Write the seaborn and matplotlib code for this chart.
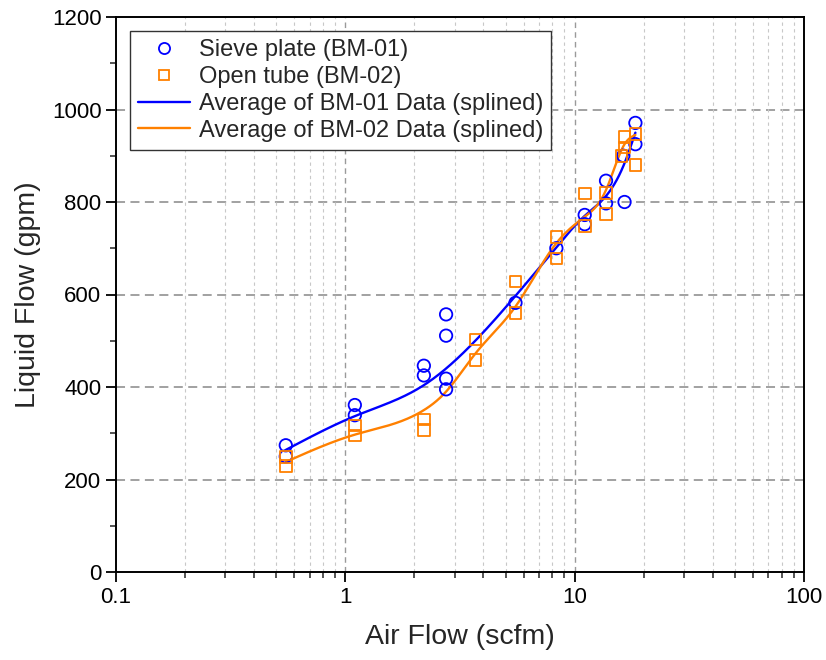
import numpy as np
import pandas as pd
import matplotlib
matplotlib.use("Agg")
import matplotlib.pyplot as plt
from matplotlib.ticker import FixedLocator, NullFormatter, MultipleLocator
from matplotlib.lines import Line2D
import seaborn as sns

# ---- data ----
bm01_x = [0.55, 0.55, 1.1, 1.1, 2.2, 2.2, 2.75, 2.75, 2.75, 2.75, 5.52, 8.32,
          11.06, 11.06, 13.7, 13.7, 16.3, 16.5, 18.4, 18.4]
bm01_y = [274, 250, 361, 339, 446, 425, 557, 511, 418, 395, 582, 700,
          772, 752, 846, 797, 900, 800, 971, 925]

bm02_x = [0.55, 0.55, 1.1, 1.1, 2.2, 2.2, 3.7, 3.7, 5.52, 5.52, 8.32, 8.32,
          11.06, 11.06, 13.7, 13.7, 16.0, 16.5, 16.5, 18.4, 18.4]
bm02_y = [249, 229, 317, 295, 330, 307, 503, 458, 628, 560, 724, 678,
          818, 748, 820, 774, 900, 940, 918, 947, 880]

avg01_x = [0.55, 1.1, 2.2, 2.75, 5.52, 8.32, 11.06, 13.7, 16.5, 18.4]
avg01_y = [264, 337, 404, 440, 597, 702, 770, 813, 884, 950]
avg02_x = [0.55, 1.1, 2.2, 2.75, 3.7, 5.52, 8.32, 11.06, 13.7, 16.5, 18.4]
avg02_y = [238, 297, 350, 390, 473, 574, 711, 768, 826, 925, 945]

x_ticks = [0.1, 1, 10, 100]
x_tick_labels = ["0.1", "1", "10", "100"]
labels = ["Sieve plate (BM-01)", "Open tube (BM-02)",
          "Average of BM-01 Data (splined)", "Average of BM-02 Data (splined)"]

BLUE = "#0000ff"
ORANGE = "#ff8000"


def natural_spline(xk, yk, n=300):
    u = np.log10(np.asarray(xk, float))
    y = np.asarray(yk, float)
    m = len(u)
    h = np.diff(u)
    A = np.zeros((m, m))
    r = np.zeros(m)
    A[0, 0] = 1
    A[-1, -1] = 1
    for i in range(1, m - 1):
        A[i, i - 1] = h[i - 1]
        A[i, i] = 2 * (h[i - 1] + h[i])
        A[i, i + 1] = h[i]
        r[i] = 6 * ((y[i + 1] - y[i]) / h[i] - (y[i] - y[i - 1]) / h[i - 1])
    M = np.linalg.solve(A, r)
    us = np.linspace(u[0], u[-1], n)
    out = np.empty_like(us)
    for j, t in enumerate(us):
        i = min(np.searchsorted(u, t, side="right") - 1, m - 2)
        i = max(i, 0)
        a = u[i + 1] - t
        b = t - u[i]
        out[j] = (M[i] * a ** 3 / (6 * h[i]) + M[i + 1] * b ** 3 / (6 * h[i])
                  + (y[i] / h[i] - M[i] * h[i] / 6) * a
                  + (y[i + 1] / h[i] - M[i + 1] * h[i] / 6) * b)
    return 10 ** us, out


sns.set_theme(style="ticks")
plt.rcParams["font.family"] = ["Liberation Sans", "DejaVu Sans"]

fig = plt.figure(figsize=(8.26, 6.6), dpi=100)
ax = fig.add_axes([116 / 826, 1 - 572 / 660, (804 - 116) / 826, (572 - 17) / 660])

df1 = pd.DataFrame({"x": bm01_x, "y": bm01_y})
df2 = pd.DataFrame({"x": bm02_x, "y": bm02_y})
sx1, sy1 = natural_spline(avg01_x, avg01_y)
sx2, sy2 = natural_spline(avg02_x, avg02_y)

sns.lineplot(x=sx1, y=sy1, ax=ax, color=BLUE, lw=1.7, sort=False, zorder=3)
sns.lineplot(x=sx2, y=sy2, ax=ax, color=ORANGE, lw=1.7, sort=False, zorder=3)
sns.scatterplot(data=df1, x="x", y="y", ax=ax, marker="o", s=80,
                facecolor="none", edgecolor=BLUE, linewidth=1.3, zorder=4)
sns.scatterplot(data=df2, x="x", y="y", ax=ax, marker="s", s=70,
                facecolor="none", edgecolor=ORANGE, linewidth=1.3, zorder=4)

ax.set_xscale("log")
ax.set_xlim(0.1, 100)
ax.set_ylim(0, 1200)
ax.xaxis.set_major_locator(FixedLocator(x_ticks))
ax.set_xticklabels(x_tick_labels)
minors = [m * 10.0 ** e for e in (-1, 0, 1) for m in range(2, 10)]
ax.xaxis.set_minor_locator(FixedLocator(minors))
ax.xaxis.set_minor_formatter(NullFormatter())
ax.yaxis.set_major_locator(MultipleLocator(200))
ax.yaxis.set_minor_locator(MultipleLocator(100))

# grid
for yv in range(200, 1200, 200):
    ax.axhline(yv, color="#9a9a9a", lw=1.3, ls=(0, (5, 3)), zorder=1)
for xv in [1, 10]:
    ax.axvline(xv, color="#9a9a9a", lw=1.0, ls=(0, (4, 3)), zorder=1)
for xv in minors:
    ax.axvline(xv, color="#c8c8c8", lw=0.8, ls=(0, (3, 3)), zorder=1)

for s in ax.spines.values():
    s.set_visible(True)
    s.set_color("black")
    s.set_linewidth(1.4)
ax.tick_params(which="major", direction="out", length=7, width=1.3,
               labelsize=16, colors="black", top=False, right=False)
ax.tick_params(which="minor", direction="out", length=4, width=1.1,
               top=False, right=False)

ax.set_xlabel("Air Flow (scfm)", fontsize=20.5, labelpad=12)
ax.set_ylabel("Liquid Flow (gpm)", fontsize=20.5, labelpad=8)

handles = [
    Line2D([], [], ls="none", marker="o", markersize=8, markerfacecolor="none",
           markeredgecolor=BLUE, markeredgewidth=1.3),
    Line2D([], [], ls="none", marker="s", markersize=7.5, markerfacecolor="none",
           markeredgecolor=ORANGE, markeredgewidth=1.3),
    Line2D([], [], color=BLUE, lw=1.7),
    Line2D([], [], color=ORANGE, lw=1.7),
]
leg = ax.legend(handles, labels, loc="upper left", fontsize=17, frameon=True,
                fancybox=False, edgecolor="#333333", framealpha=1,
                handlelength=2.2, handletextpad=0.35, labelspacing=0.2,
                borderaxespad=0.6, borderpad=0.35)
leg.get_frame().set_linewidth(1.0)

fig.savefig("out.png", dpi=100)
